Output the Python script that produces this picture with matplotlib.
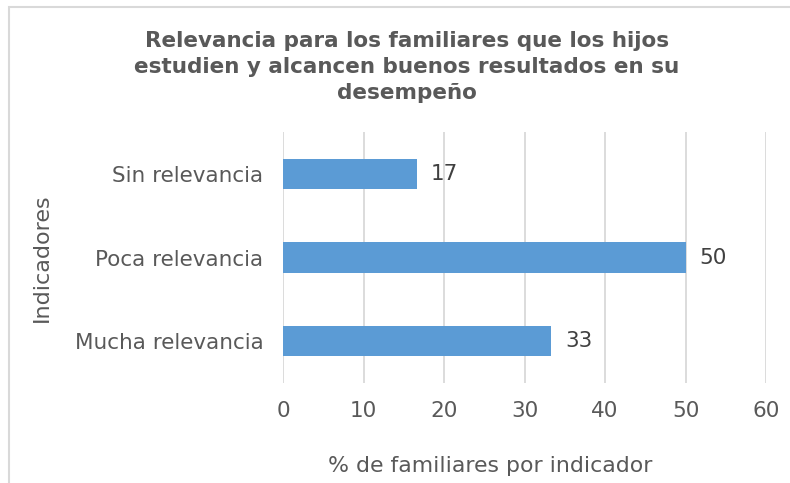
import matplotlib
matplotlib.use("Agg")
import matplotlib.pyplot as plt
from matplotlib.patches import Rectangle

categories = ["Mucha relevancia", "Poca relevancia", "Sin relevancia"]
values = [33.33, 50.0, 16.67]
xticks = [0, 10, 20, 30, 40, 50, 60]

title = "Relevancia para los familiares que los hijos\nestudien y alcancen buenos resultados en su\ndesempeño"
xlabel = "% de familiares por indicador"
ylabel = "Indicadores"

W, H = 790, 483
fig = plt.figure(figsize=(W / 100, H / 100), dpi=100)
txt = "#595959"

# plot area in pixels: x 283..766, y 132..383
ax = fig.add_axes([283 / W, 1 - 383 / H, (766 - 283) / W, (383 - 132) / H])

y = list(range(len(categories)))
bars = ax.barh(y, values, height=0.36, color="#5B9BD5", zorder=3)
for b, v in zip(bars, values):
    ax.text(b.get_width() + 1.7, b.get_y() + b.get_height() / 2, f"{v:.0f}",
            va="center", ha="left", fontsize=15.5, color="#404040")

ax.set_xlim(0, 60)
ax.set_ylim(-0.5, len(categories) - 0.5)
ax.set_xticks(xticks)
ax.set_xticklabels([str(t) for t in xticks])
ax.set_yticks(y)
ax.set_yticklabels(categories)
ax.xaxis.grid(True, color="#D9D9D9", linewidth=1.3, zorder=0)
ax.yaxis.grid(False)
for s in ax.spines.values():
    s.set_visible(False)
ax.tick_params(axis="both", length=0, labelsize=15.5, colors=txt)
ax.tick_params(axis="x", pad=13)
ax.tick_params(axis="y", pad=14)

fig.text(42 / W, 1 - 258 / H, ylabel, rotation=90, ha="center", va="center",
         fontsize=16, color=txt)
fig.text(490 / W, 1 - 466 / H, xlabel, ha="center", va="center",
         fontsize=15.8, color=txt)
fig.text(407 / W, 1 - 67 / H, title, ha="center", va="center",
         fontsize=15.5, fontweight="bold", color=txt, linespacing=1.35)

fig.patches.append(Rectangle((8.5 / W, -0.1), 1.2, 1 - 7.5 / H + 0.1,
                             transform=fig.transFigure, fill=False,
                             edgecolor="#D9D9D9", linewidth=1.5))

fig.savefig("out.png", dpi=100)
